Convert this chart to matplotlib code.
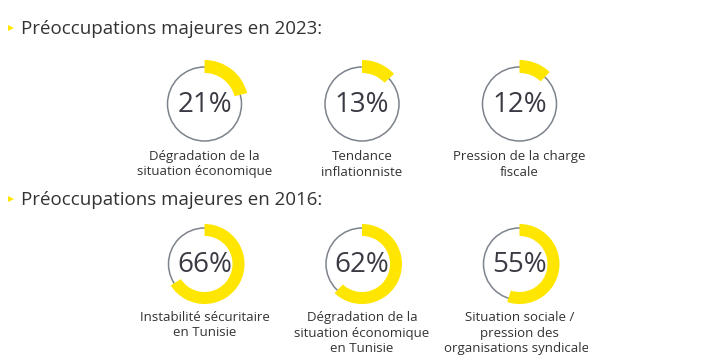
import matplotlib
matplotlib.use("Agg")
import matplotlib.pyplot as plt
from matplotlib.patches import Wedge, Circle
from matplotlib.transforms import Bbox, TransformedBbox

plt.rcParams['font.family'] = ['Open Sans', 'DejaVu Sans']

titles = ["Préoccupations majeures en 2023:", "Préoccupations majeures en 2016:"]
values_2023 = [21, 13, 12]
labels_2023 = ["Dégradation de la\nsituation économique",
               "Tendance\ninflationniste",
               "Pression de la charge\nfiscale"]
values_2016 = [66, 62, 55]
labels_2016 = ["Instabilité sécuritaire\nen Tunisie",
               "Dégradation de la\nsituation économique\nen Tunisie",
               "Situation sociale /\npression des\norganisations syndicales"]

W, H = 707, 360
fig = plt.figure(figsize=(W / 100, H / 100), dpi=100)
ax = fig.add_axes([0, 0, 1, 1])
ax.set_xlim(0, W)
ax.set_ylim(0, H)
ax.set_aspect('equal')
ax.axis('off')

YELLOW = "#FFE600"
GRAY = "#7d838c"
TXT = "#333333"
NUM = "#3a3a44"

def Y(y):
    return H - y

xs = [204.5, 362, 519.5]

rows = [
    dict(title=titles[0], ty=29, vals=values_2023, labs=labels_2023, cy=104,
         r_gray=37, r_out=44, w=13, label_y=150),
    dict(title=titles[1], ty=200, vals=values_2016, labs=labels_2016, cy=264,
         r_gray=36, r_out=40, w=12, label_y=311),
]

clip_box = TransformedBbox(Bbox([[0, 0], [588, H]]), ax.transData)

for row in rows:
    ax.text(21, Y(row['ty']), row['title'], fontsize=13.5, color=TXT,
            ha='left', va='center')
    ax.plot([11], [Y(row['ty'] - 1)], marker='>', markersize=4.5,
            color=YELLOW, markeredgewidth=0)
    for i, (v, lab) in enumerate(zip(row['vals'], row['labs'])):
        cx, cy = xs[i], Y(row['cy'])
        ax.add_patch(Circle((cx, cy), row['r_gray'], fill=False,
                            edgecolor=GRAY, linewidth=1.1))
        ax.add_patch(Wedge((cx, cy), row['r_out'], 90 - 360 * v / 100, 90,
                           width=row['w'], facecolor=YELLOW, edgecolor='none'))
        ax.text(cx, cy - 1, f"{v}%", fontsize=20, color=NUM,
                ha='center', va='center')
        t = ax.text(cx, Y(row['label_y']), lab, fontsize=9.5, color=TXT,
                    ha='center', va='top', linespacing=1.25)
        t.set_clip_on(True)
        t.set_clip_box(clip_box)

fig.savefig("out.png", dpi=100, facecolor='white')
